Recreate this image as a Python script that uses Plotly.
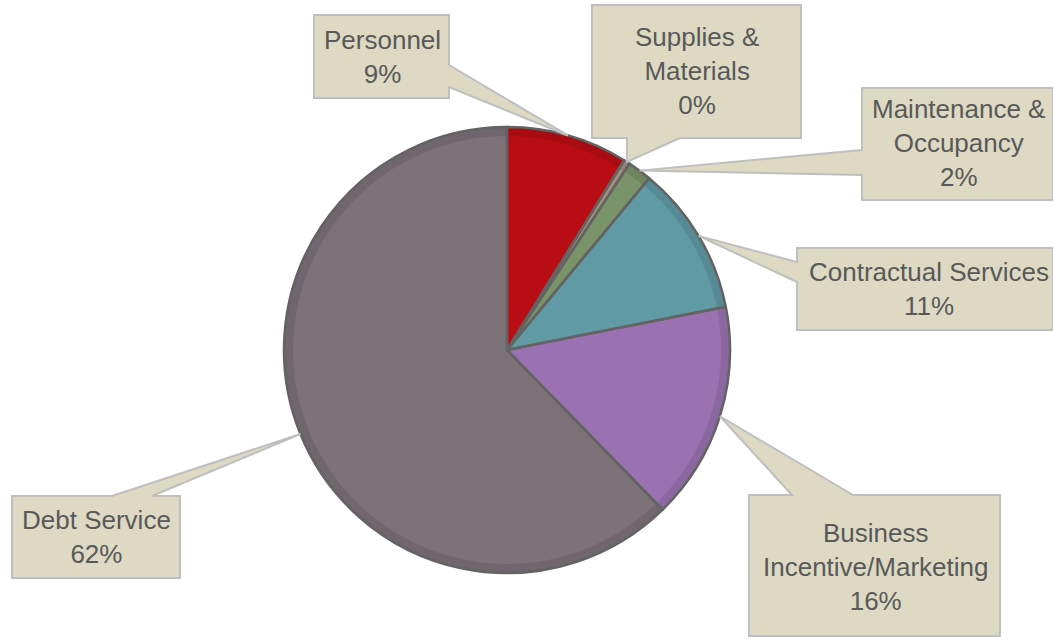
import math
import plotly.graph_objects as go

# ---- data ----
categories = ["Personnel", "Supplies &<br>Materials", "Maintenance &<br>Occupancy",
              "Contractual Services", "Business<br>Incentive/Marketing", "Debt Service"]
values = [8.8, 0.45, 1.75, 10.9, 15.8, 62.3]
colors = ["#B80D12", "#A39178", "#7A9469", "#5F9AA5", "#9A72B1", "#7E7279"]
rim_colors = ["#A60C10", "#93836C", "#6E855F", "#568B95", "#8B67A0", "#71666D"]

W, H = 1053, 640
cx, cy, r = 507, 350, 223  # pie geometry in pixels (layout)


def px(x):
    return x / W


def py(y):
    return 1 - y / H


def dom(rad):
    return dict(x=[px(cx - rad), px(cx + rad)], y=[py(cy + rad), py(cy - rad)])


common = dict(values=values, labels=categories, sort=False, direction="clockwise",
              rotation=0, textinfo="none", showlegend=False)

fig = go.Figure()
fig.add_trace(go.Pie(**common, hoverinfo="skip",
                     marker=dict(colors=rim_colors, line=dict(width=0)), domain=dom(r)))
fig.add_trace(go.Pie(**common, hoverinfo="skip",
                     marker=dict(colors=colors, line=dict(width=0)), domain=dom(r - 9)))
fig.add_trace(go.Pie(**common, hoverinfo="label+percent",
                     marker=dict(colors=["rgba(0,0,0,0)"] * len(values),
                                 line=dict(color="#636363", width=2.5)), domain=dom(r)))

# callout boxes (layout, pixels): box, side of pointer, pointer base, text centre
callouts = [
    dict(box=(314, 15, 449, 98), side="right", base=(65, 87), text=(382, 57)),
    dict(box=(592, 5, 801, 138), side="bottom", base=(627, 680), text=(697, 71)),
    dict(box=(862, 88, 1053, 200), side="left", base=(150, 175), text=(958, 143)),
    dict(box=(797, 248, 1053, 330), side="left", base=(262, 282), text=(929, 289)),
    dict(box=(749, 495, 1000, 636), side="top", base=(792, 853), text=(875, 567)),
    dict(box=(12, 496, 180, 578), side="top", base=(112, 152), text=(96, 537)),
]

total = sum(values)
cum = 0
for v, name, c in zip(values, categories, callouts):
    mid = (cum + v / 2) / total
    cum += v
    ang = 2 * math.pi * mid
    tx, ty = cx + r * math.sin(ang), cy - r * math.cos(ang)
    x0, y0, x1, y1 = c["box"]
    a, b = c["base"]
    s = c["side"]
    pts = [(x0, y0)]
    if s == "top":
        pts += [(a, y0), (tx, ty), (b, y0)]
    pts.append((x1, y0))
    if s == "right":
        pts += [(x1, a), (tx, ty), (x1, b)]
    pts.append((x1, y1))
    if s == "bottom":
        pts += [(b, y1), (tx, ty), (a, y1)]
    pts.append((x0, y1))
    if s == "left":
        pts += [(x0, b), (tx, ty), (x0, a)]
    path = "M " + " L ".join(f"{px(x):.5f},{py(y):.5f}" for x, y in pts) + " Z"
    fig.add_shape(type="path", path=path, xref="paper", yref="paper",
                  fillcolor="#DDD9C3", line=dict(color="#BFBFBF", width=2), layer="above")
    pct = round(v / total * 100)
    fig.add_annotation(x=px(c["text"][0]), y=py(c["text"][1]), xref="paper", yref="paper",
                       text=f"{name}<br>{pct}%", showarrow=False, align="center",
                       xanchor="center", yanchor="middle",
                       font=dict(family="Liberation Sans, Arial", size=26, color="#595959"))

fig.update_layout(width=W, height=H, margin=dict(l=0, r=0, t=0, b=0),
                  paper_bgcolor="white", plot_bgcolor="white")
fig.write_html("out.html", config={"displayModeBar": False},
               post_script="document.body.style.margin='0';")
